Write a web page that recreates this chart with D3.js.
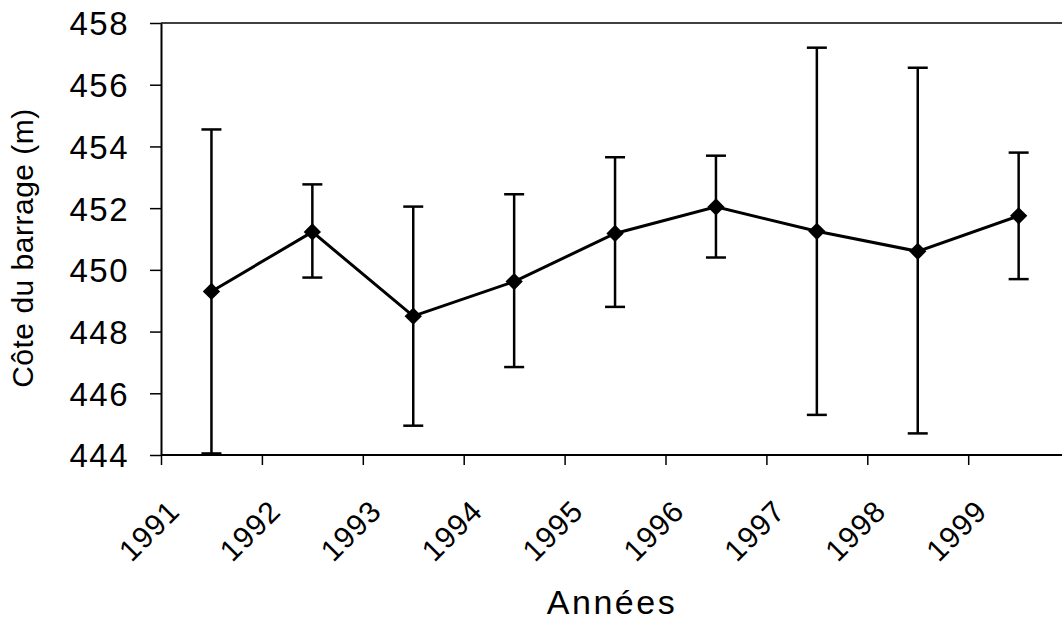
<!DOCTYPE html>
<html>
<head>
<meta charset="utf-8">
<script src="https://cdn.jsdelivr.net/npm/d3@7"></script>
<style>
  body { margin: 0; background: #fff; }
  svg { display: block; }
  text { font-family: "Liberation Sans", Arial, sans-serif; fill: #000; }
</style>
</head>
<body>
<svg id="chart" width="1062" height="620"></svg>
<script>
// data
const years = [1991, 1992, 1993, 1994, 1995, 1996, 1997, 1998, 1999];
const means = [449.3, 451.23, 448.5, 449.62, 451.18, 452.04, 451.25, 450.6, 451.75];
const upper = [454.55, 452.77, 452.05, 452.45, 453.65, 453.7, 457.2, 456.55, 453.8];
const lower = [444.05, 449.75, 444.95, 446.85, 448.8, 450.4, 445.3, 444.7, 449.7];
const yTicks = [444, 446, 448, 450, 452, 454, 456, 458];

const svg = d3.select('#chart');
const margin = {top: 23, left: 161, bottom: 165};
const height = 620 - margin.top - margin.bottom;

// x: years as continuous, points sit in the middle of each year
const x = d3.scaleLinear().domain([1991, 2000]).range([margin.left, margin.left + 9 * 100.9]);
const y = d3.scaleLinear().domain([444, 458]).range([margin.top + height, margin.top]);

// top border of the plot area
svg.append('line')
    .attr('x1', x(1991)).attr('x2', 1062)
    .attr('y1', y(458)).attr('y2', y(458))
    .attr('stroke', '#000').attr('stroke-width', 1.5);

// y axis
const yAxis = svg.append('g')
    .attr('transform', `translate(${x(1991)},0)`)
    .call(d3.axisLeft(y).tickValues(yTicks).tickSize(11).tickPadding(21).tickSizeOuter(0));
yAxis.select('.domain').attr('stroke-width', 2);
yAxis.selectAll('.tick line').attr('stroke-width', 1.5);
yAxis.selectAll('.tick text')
    .style('font-size', '33px')
    .style('letter-spacing', '1.5px')
    .style('font-family', '"Liberation Sans", Arial, sans-serif')
    .attr('dy', '0.36em');

// x axis
const xAxis = svg.append('g')
    .attr('transform', `translate(0,${y(444)})`)
    .call(d3.axisBottom(x).tickValues(years).tickSize(10).tickSizeOuter(0).tickFormat(d3.format('d')));
xAxis.select('.domain').attr('d', `M${x(1991)},0H1062`).attr('stroke-width', 2);
xAxis.selectAll('.tick line').attr('stroke-width', 1.5);
xAxis.selectAll('.tick text')
    .style('font-size', '30px')
    .style('letter-spacing', '1px')
    .style('font-family', '"Liberation Sans", Arial, sans-serif')
    .attr('text-anchor', 'end')
    .attr('dy', 0)
    .attr('y', 0)
    .attr('transform', 'translate(20,58) rotate(-45)');

// error bars
const mid = d => x(d + 0.5);
const bars = svg.append('g');
years.forEach((yr, i) => {
    bars.append('line')
        .attr('x1', mid(yr)).attr('x2', mid(yr))
        .attr('y1', y(upper[i])).attr('y2', y(lower[i]))
        .attr('stroke', '#000').attr('stroke-width', 2.5);
    [upper[i], lower[i]].forEach(v => {
        bars.append('line')
            .attr('x1', mid(yr) - 10).attr('x2', mid(yr) + 10)
            .attr('y1', y(v)).attr('y2', y(v))
            .attr('stroke', '#000').attr('stroke-width', 2.5);
    });
});

// mean line
const line = d3.line().x((d, i) => mid(years[i])).y(d => y(d));
svg.append('path')
    .datum(means)
    .attr('d', line)
    .attr('fill', 'none')
    .attr('stroke', '#000')
    .attr('stroke-width', 3);

// diamond markers
svg.selectAll('.marker')
    .data(means)
    .enter().append('path')
        .attr('class', 'marker')
        .attr('d', d3.symbol().type(d3.symbolSquare).size(150))
        .attr('transform', (d, i) => `translate(${mid(years[i])},${y(d)}) rotate(45)`)
        .attr('fill', '#000');

// axis titles
svg.append('text')
    .attr('x', 612).attr('y', 614)
    .attr('text-anchor', 'middle')
    .style('font-size', '34px')
    .style('letter-spacing', '2.5px')
    .text('Années');

svg.append('text')
    .attr('transform', 'translate(33,248) rotate(-90)')
    .attr('text-anchor', 'middle')
    .style('font-size', '30px')
    .style('letter-spacing', '0.5px')
    .text('Côte du barrage (m)');
</script>
</body>
</html>
